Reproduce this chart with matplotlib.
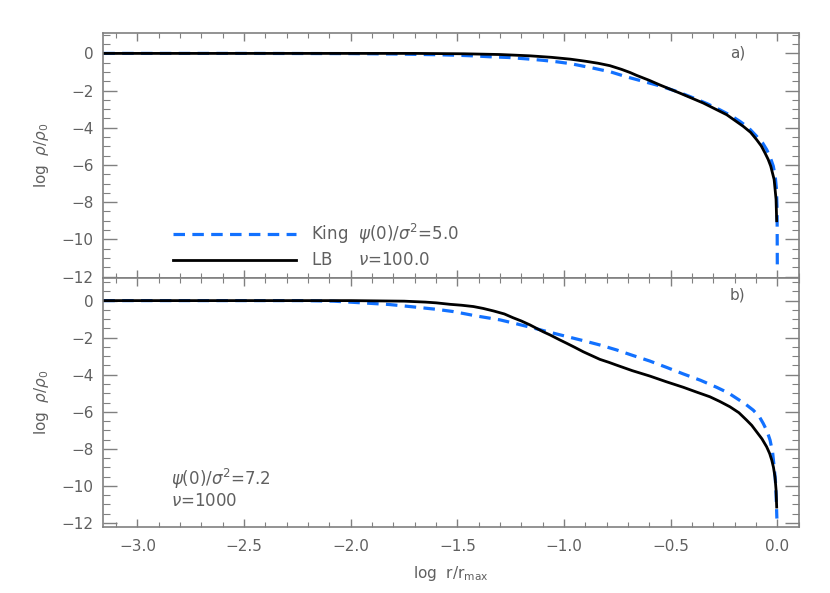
import matplotlib
matplotlib.use("Agg")
import matplotlib.pyplot as plt
from matplotlib.ticker import MultipleLocator

# panel a) King psi(0)/sigma^2 = 5.0 and LB nu = 100
king5_x = [-3.16, -2.5, -2.0, -1.8, -1.7, -1.6, -1.5, -1.43, -1.35, -1.26, -1.17,
           -1.1, -1.035, -0.97, -0.86, -0.78, -0.71, -0.63, -0.55, -0.47, -0.39,
           -0.33, -0.27, -0.22, -0.175, -0.135, -0.097, -0.07, -0.05, -0.033,
           -0.019, -0.01, -0.004, -0.001, 0.0]
king5_y = [0, 0, -0.01, -0.03, -0.05, -0.07, -0.10, -0.13, -0.18, -0.22, -0.30,
           -0.37, -0.45, -0.55, -0.80, -1.0, -1.25, -1.5, -1.75, -2.05, -2.41,
           -2.7, -3.03, -3.33, -3.66, -4.0, -4.46, -4.8, -5.17, -5.6,
           -6.06, -6.6, -7.3, -8.5, -11.6]
lb100_x = [-3.16, -2.0, -1.7, -1.47, -1.3, -1.16, -1.06, -0.97, -0.9, -0.84,
           -0.785, -0.73, -0.69, -0.66, -0.6, -0.55, -0.456, -0.347, -0.237,
           -0.16, -0.125, -0.097, -0.075, -0.058, -0.043, -0.031, -0.015,
           -0.006, -0.003]
lb100_y = [0, 0, 0, -0.02, -0.06, -0.13, -0.21, -0.31, -0.42, -0.53,
           -0.66, -0.86, -1.03, -1.18, -1.45, -1.70, -2.14, -2.67, -3.30,
           -3.92, -4.25, -4.64, -4.98, -5.35, -5.7, -6.06, -6.78,
           -7.84, -9.0]

# panel b) King psi(0)/sigma^2 = 7.2 and LB nu = 1000
king72_x = [-3.16, -2.5, -2.24, -2.08, -1.92, -1.82, -1.723, -1.598, -1.52, -1.41,
            -1.30, -1.22, -1.14, -1.066, -0.99, -0.91, -0.83, -0.754, -0.68,
            -0.598, -0.52, -0.44, -0.36, -0.284, -0.23, -0.19, -0.15, -0.113,
            -0.085, -0.066, -0.048, -0.034, -0.022, -0.015, -0.009, -0.006,
            -0.002]
king72_y = [0, 0, 0, -0.03, -0.14, -0.21, -0.32, -0.47, -0.59, -0.83,
            -1.04, -1.26, -1.49, -1.71, -1.93, -2.16, -2.40, -2.66, -2.95,
            -3.26, -3.6, -3.96, -4.3, -4.68, -4.98, -5.28, -5.58, -5.91,
            -6.25, -6.63, -7.05, -7.53, -8.2, -8.97, -9.7, -10.41,
            -11.76]
lb1000_x = [-3.16, -2.0, -1.75, -1.65, -1.6, -1.535, -1.48, -1.425, -1.38, -1.33,
            -1.28, -1.24, -1.2, -1.16, -1.098, -1.066, -1.02, -0.988, -0.95,
            -0.91, -0.87, -0.832, -0.79, -0.754, -0.68, -0.598, -0.52, -0.44,
            -0.38, -0.316, -0.27, -0.222, -0.18, -0.144, -0.12, -0.097, -0.072,
            -0.05, -0.036, -0.026, -0.018, -0.011, -0.006, -0.003]
lb1000_y = [0, 0, -0.03, -0.08, -0.12, -0.2, -0.25, -0.32, -0.42, -0.56,
            -0.72, -0.92, -1.1, -1.31, -1.68, -1.85, -2.12, -2.30, -2.52,
            -2.76, -2.97, -3.17, -3.33, -3.48, -3.78, -4.07, -4.38, -4.68,
            -4.93, -5.19, -5.44, -5.73, -6.05, -6.45, -6.73, -7.08, -7.46,
            -7.89, -8.25, -8.61, -9.0, -9.51, -10.2, -11.14]

BLUE = '#1271ff'
GRID = '#808080'
TXT = '#606060'

plt.rcParams['font.family'] = 'DejaVu Sans'
plt.rcParams['mathtext.fontset'] = 'dejavusans'

fig = plt.figure(figsize=(8.3, 5.93), dpi=100)
ax1 = fig.add_axes([0.1245, 0.5312, 0.8385, 0.4126])
ax2 = fig.add_axes([0.1245, 0.1118, 0.8385, 0.4194])


def style(ax, ylim):
    ax.set_xlim(-3.16, 0.103)
    ax.set_ylim(*ylim)
    ax.xaxis.set_major_locator(MultipleLocator(0.5))
    ax.xaxis.set_minor_locator(MultipleLocator(0.1))
    ax.yaxis.set_major_locator(MultipleLocator(2))
    ax.yaxis.set_minor_locator(MultipleLocator(0.5))
    ax.tick_params(axis='x', which='major', direction='in', length=6, width=1,
                   top=True, bottom=True, color=GRID, labelcolor=TXT,
                   labelsize=11, pad=9)
    ax.tick_params(axis='x', which='minor', direction='in', length=3.5, width=0.8,
                   top=True, bottom=True, color=GRID)
    ax.tick_params(axis='y', which='major', direction='in', length=10, width=1,
                   left=True, right=True, color=GRID, labelcolor=TXT,
                   labelsize=11, pad=7)
    ax.tick_params(axis='y', which='minor', direction='in', length=5, width=0.8,
                   left=True, right=True, color=GRID)
    for s in ax.spines.values():
        s.set_color(GRID)
        s.set_linewidth(1.2)
    ax.set_ylabel(r'log  $\rho/\rho_0$', color=TXT, fontsize=11, labelpad=8)


style(ax1, (-12.08, 1.08))
style(ax2, (-12.2, 1.22))

ax1.plot(king5_x, king5_y, color=BLUE, lw=2.3, dashes=(3.6, 2.3),
         label=r'King  $\psi(0)/\sigma^2$=5.0')
ax1.plot(lb100_x, lb100_y, color='black', lw=2.0,
         label=r'LB     $\nu$=100.0')
ax1.tick_params(axis='x', labelbottom=False)
ax1.text(0.922, 0.92, 'a)', transform=ax1.transAxes, ha='right', va='center',
         color=TXT, fontsize=11)
leg = ax1.legend(loc='center left', bbox_to_anchor=(0.078, 0.133), frameon=False,
                 handlelength=7.4, handletextpad=0.9, labelspacing=0.35,
                 fontsize=12)
for t in leg.get_texts():
    t.set_color(TXT)

ax2.plot(king72_x, king72_y, color=BLUE, lw=2.3, dashes=(3.6, 2.3))
ax2.plot(lb1000_x, lb1000_y, color='black', lw=2.0)
ax2.text(0.922, 0.93, 'b)', transform=ax2.transAxes, ha='right', va='center',
         color=TXT, fontsize=11)
ax2.text(0.097, 0.19, r'$\psi(0)/\sigma^2$=7.2', transform=ax2.transAxes,
         ha='left', va='center', color=TXT, fontsize=12)
ax2.text(0.097, 0.105, r'$\nu$=1000', transform=ax2.transAxes,
         ha='left', va='center', color=TXT, fontsize=12)
ax2.set_xlabel(r'log  r/r$_{\rm max}$', color=TXT, fontsize=11, labelpad=7)

fig.savefig('out.png', dpi=100)
